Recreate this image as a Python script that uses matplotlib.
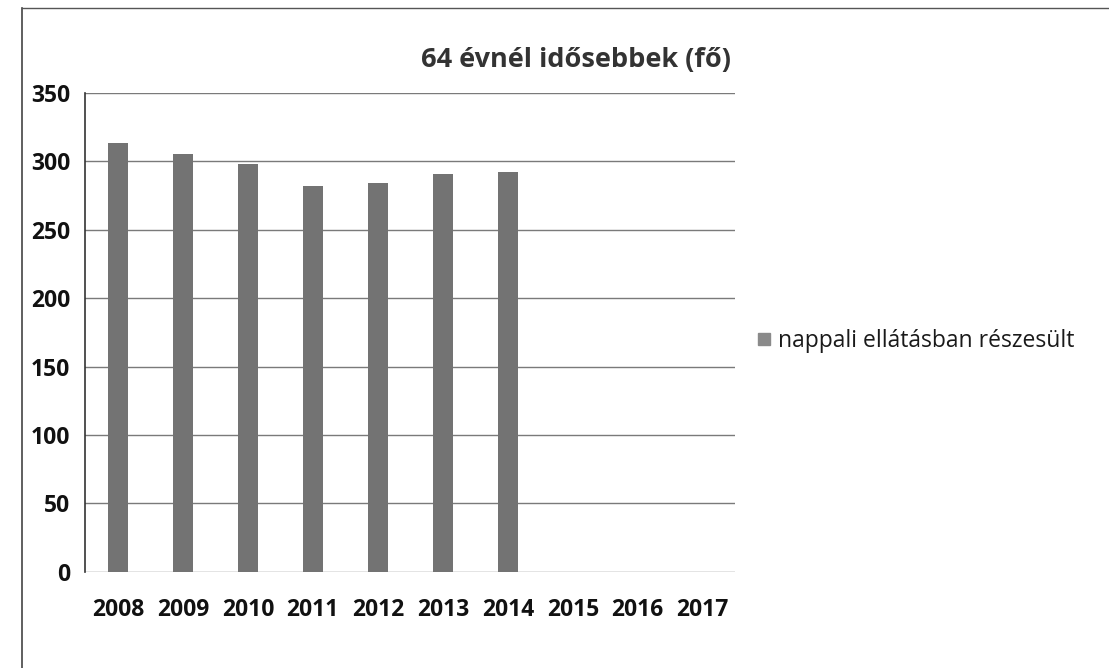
import matplotlib
matplotlib.use("Agg")
import matplotlib.pyplot as plt
from matplotlib.lines import Line2D

years = ["2008", "2009", "2010", "2011", "2012", "2013", "2014", "2015", "2016", "2017"]
values = [313, 305, 298, 282, 284, 291, 292, 0, 0, 0]
series_name = "nappali ellátásban részesült"
title = "64 évnél idősebbek (fő)"
yticks = [0, 50, 100, 150, 200, 250, 300, 350]

plt.rcParams["font.family"] = ["Open Sans", "DejaVu Sans"]

fig = plt.figure(figsize=(11.09, 6.68), dpi=100)
ax = fig.add_axes([0.077, 0.144, 0.586, 0.717])

x = list(range(len(years)))
ax.bar(x, values, width=0.3, color="#737373", zorder=3, label=series_name)

ax.set_xlim(-0.5, len(years) - 0.5)
ax.set_ylim(0, 350)
ax.set_yticks(yticks)
ax.set_xticks(x)
ax.set_xticklabels(years)
ax.grid(axis="y", color="#7a7a7a", linewidth=1.0, zorder=0)
for s in ["top", "right", "bottom"]:
    ax.spines[s].set_visible(False)
ax.spines["left"].set_color("#333333")
ax.spines["left"].set_linewidth(1.2)
ax.tick_params(axis="both", length=0, labelsize=16.5)
for lab in ax.get_xticklabels() + ax.get_yticklabels():
    lab.set_fontweight("bold")
    lab.set_color("#111111")
ax.tick_params(axis="x", pad=19)
ax.tick_params(axis="y", pad=11)

fig.text(0.519, 0.91, title, ha="center", va="center",
         fontsize=19.5, fontweight="bold", color="#333333")

leg = fig.legend(handles=[Line2D([], [], marker="s", linestyle="none",
                                 markersize=9, color="#8a8a8a")],
                 labels=[series_name], loc="center left",
                 bbox_to_anchor=(0.66, 0.49), frameon=False,
                 fontsize=16.5, handletextpad=0.1, handlelength=1.0)
for t in leg.get_texts():
    t.set_color("#1a1a1a")

# outer chart frame (partly visible in the scan)
fig.add_artist(Line2D([0.02, 0.02], [0.0, 0.988], color="#444444", linewidth=1.2))
fig.add_artist(Line2D([0.02, 1.0], [0.988, 0.988], color="#555555", linewidth=1.0))

fig.savefig("out.png", dpi=100)
